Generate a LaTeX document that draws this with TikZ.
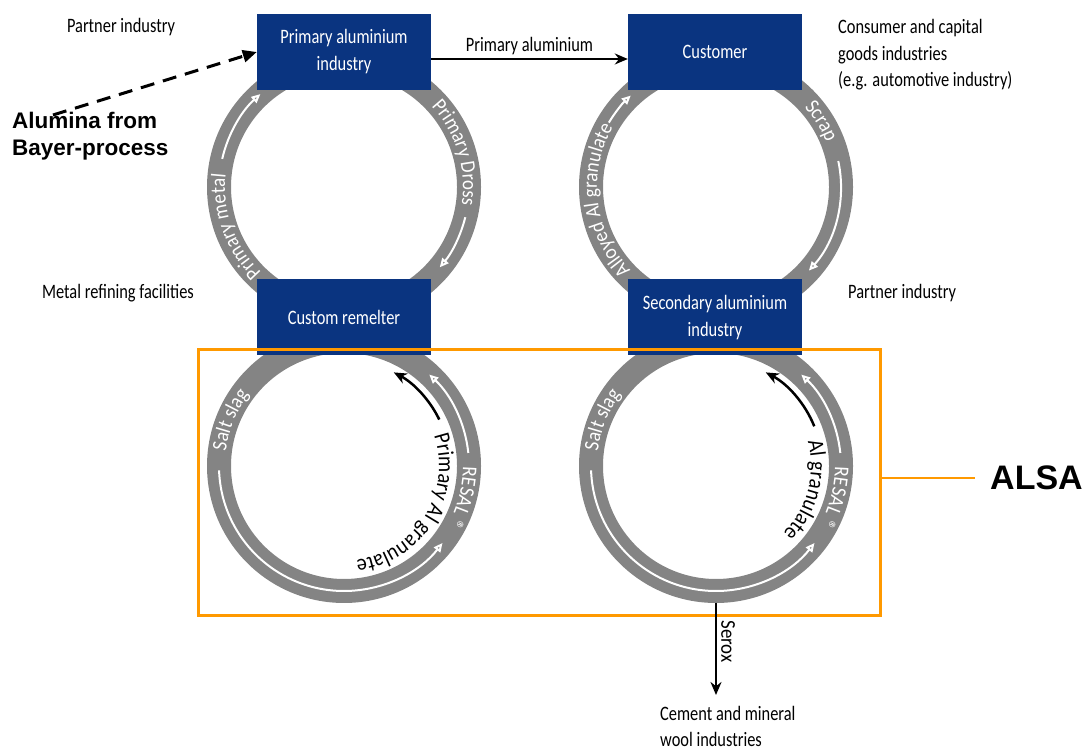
\documentclass[tikz,border=0pt]{standalone}
\usepackage{fontspec}
\setmainfont{Carlito}[FakeStretch=0.8]
\newfontfamily\bandfam{Carlito}[FakeStretch=0.9]
\newfontfamily\arialfam{Liberation Sans}
\usetikzlibrary{arrows.meta,decorations.text}
\definecolor{boxblue}{RGB}{10,52,128}
\definecolor{ringgray}{RGB}{132,132,132}
\definecolor{alsaorange}{RGB}{255,153,0}

\begin{document}
\begin{tikzpicture}[x=1pt,y=1pt,
  box/.style={fill=boxblue,text=white,minimum width=174,minimum height=76,align=center,font=\fontsize{20.5}{27}\selectfont},
  lbl/.style={font=\fontsize{20.5}{26.5}\selectfont,align=left,inner sep=0},
  ring/.style={draw=ringgray,line width=24pt},
  wharrow/.style={white,line width=2pt,-{Triangle[open,length=9pt,width=8pt]}},
  blarrow/.style={line width=2.5pt,-{Stealth[length=13pt,width=11pt]}},
  bandtext/.style={decorate,decoration={text along path,text color=white,text align=center,text={|\fontsize{21}{24}\bandfam|#1}}},
  innertext/.style={decorate,decoration={text along path,text align=center,text={|\fontsize{22.5}{26}\bandfam|#1}}}]
\useasboundingbox (0,0) rectangle (1091,751);
\coordinate (tl) at (344,564);
\coordinate (bl) at (344,285);
\coordinate (tr) at (716,564);
\coordinate (br) at (716,285);
\foreach \c in {tl,tr,bl,br} \draw[ring] (\c) circle[radius=125];
\draw[wharrow] (tl) ++(167:125) arc[start angle=167,end angle=132,radius=125];
\draw[wharrow] (tl) ++(-14:125) arc[start angle=-14,end angle=-40,radius=125];
\draw[wharrow] (tr) ++(149:125) arc[start angle=149,end angle=133,radius=125];
\draw[wharrow] (tr) ++(12:125) arc[start angle=12,end angle=-42,radius=125];
\foreach \c in {bl,br}{
  \draw[wharrow] (\c) ++(182:125) arc[start angle=182,end angle=322,radius=125];
  \draw[wharrow] (\c) ++(6:125) arc[start angle=6,end angle=47,radius=125];
  \path[bandtext={Salt slag}] (\c) ++(190:119) arc[start angle=190,end angle=126,radius=119];
  \path[bandtext={RESAL ®}] (\c) ++(25:119) arc[start angle=25,end angle=-55,radius=119];
}
\path[bandtext={Primary metal}] (tl) ++(240:119) arc[start angle=240,end angle=160,radius=119];
\path[bandtext={Primary Dross}] (tl) ++(57:119) arc[start angle=57,end angle=-23,radius=119];
\path[bandtext={Alloyed Al granulate}] (tr) ++(237:119) arc[start angle=237,end angle=137,radius=119];
\path[bandtext={Scrap}] (tr) ++(52:119) arc[start angle=52,end angle=12,radius=119];
\path[innertext={Primary Al granulate}] (bl) ++(40:95) arc[start angle=40,end angle=-104,radius=95];
\path[innertext={Al granulate}] (br) ++(40:95) arc[start angle=40,end angle=-70,radius=95];
\draw[blarrow] (bl) ++(26:106) arc[start angle=26,end angle=62,radius=106];
\draw[blarrow] (br) ++(22:106) arc[start angle=22,end angle=62,radius=106];
\node[box] (pai) at (344,699) {Primary aluminium\\industry};
\node[box] (cust) at (715,699) {Customer};
\node[box] (crem) at (344,433.5) {Custom remelter};
\node[box] (sai) at (715,433.5) {Secondary aluminium\\industry};
\node[draw=alsaorange,line width=3pt,minimum width=682,minimum height=266,inner sep=0] (alsabox) at (539,268) {};
\node[lbl] (pil) at (121,724) {Partner industry};
\node[lbl] (mrf) at (118,458) {Metal refining facilities};
\node[lbl,anchor=west] (cons) at (838,696) {Consumer and capital\\goods industries\\(e.g. automotive industry)};
\node[lbl,anchor=west] (pir) at (848,458) {Partner industry};
\node[lbl,anchor=north west] (cem) at (660,45) {Cement and mineral\\wool industries};
\node[font=\arialfam\bfseries\fontsize{22.5}{27}\selectfont,align=left,anchor=west,inner sep=0] (alu) at (12,615) {Alumina from\\Bayer-process};
\node[font=\arialfam\bfseries\fontsize{34}{40}\selectfont,anchor=west,inner xsep=15pt] (alsa) at (975,273) {ALSA};
\coordinate (bayer) at (53,636);
\draw[line width=3pt,dash pattern=on 14pt off 9pt,-{Triangle[length=14pt,width=12pt]}] (bayer) -- (pai.west);
\draw[line width=2pt,-{Stealth[length=13pt,width=11pt]}] ([yshift=-7pt]pai.east) -- node[above,inner sep=3pt,font=\fontsize{20.5}{24}\selectfont] {Primary aluminium} ([yshift=-7pt]cust.west);
\draw[alsaorange,line width=1.2pt] (alsabox.east |- alsa.west) -- (alsa.west);
\coordinate (sxa) at (716,148);
\coordinate (sxb) at (716,56);
\draw[blarrow] (sxa) -- node[rotate=-90,anchor=south,pos=0.42,inner sep=4pt,font=\fontsize{21}{24}\bandfam] {Serox} (sxb);
\end{tikzpicture}
\end{document}
